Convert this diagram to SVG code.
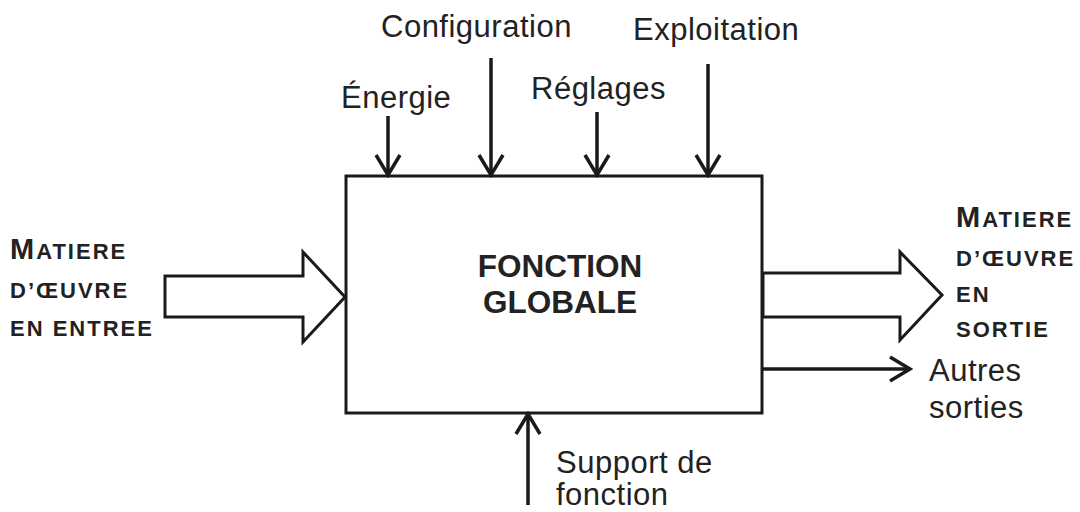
<svg xmlns="http://www.w3.org/2000/svg" width="1080" height="512" viewBox="0 0 1080 512">
  <defs>
    <marker id="chev" markerUnits="userSpaceOnUse" markerWidth="26" markerHeight="28" viewBox="0 0 26 28" refX="23" refY="14" orient="auto">
      <path d="M3,2 L23,14 L3,26" fill="none" stroke="#1a1a1a" stroke-width="3.5" stroke-linejoin="miter"/>
    </marker>
  </defs>
  <style>
    .t { font-family: "Liberation Sans", Arial, sans-serif; font-size: 31px; letter-spacing: 0.5px; fill: #222; }
    .b { font-family: "Liberation Sans", Arial, sans-serif; font-weight: bold; fill: #222; }
    .sc { font-size: 22px; letter-spacing: 2px; }
    .big { font-size: 29px; }
    .ln { stroke: #1a1a1a; stroke-width: 3.5; fill: none; }
    .hol { stroke: #1a1a1a; stroke-width: 3; fill: #fff; stroke-linejoin: miter; }
  </style>
  <rect width="1080" height="512" fill="#fff"/>

  <g id="fonction-globale">
    <rect x="346" y="176" width="416" height="237" fill="#fff" stroke="#1a1a1a" stroke-width="3"/>
    <text class="b" x="560" y="277" font-size="31.5" text-anchor="middle">FONCTION</text>
    <text class="b" x="560" y="313" font-size="31.5" text-anchor="middle">GLOBALE</text>
  </g>

  <g id="connectors">
    <line class="ln" x1="388" y1="116" x2="388" y2="175" marker-end="url(#chev)"/>
    <line class="ln" x1="491" y1="58" x2="491" y2="175" marker-end="url(#chev)"/>
    <line class="ln" x1="597" y1="112" x2="597" y2="175" marker-end="url(#chev)"/>
    <line class="ln" x1="708" y1="64" x2="708" y2="175" marker-end="url(#chev)"/>
    <line class="ln" x1="528" y1="505" x2="528" y2="414" marker-end="url(#chev)"/>
    <line class="ln" x1="763" y1="369" x2="910" y2="369" marker-end="url(#chev)"/>
    <polygon class="hol" points="165,276 303,276 303,252 345,297 303,342 303,317 165,317"/>
    <polygon class="hol" points="763,273 900,273 900,252 942,295 900,340 900,317 763,317"/>
  </g>

  <g id="energie"><text class="t" x="341" y="108">Énergie</text></g>
  <g id="configuration"><text class="t" x="381" y="37">Configuration</text></g>
  <g id="reglages"><text class="t" x="531" y="99">Réglages</text></g>
  <g id="exploitation"><text class="t" x="633" y="40">Exploitation</text></g>
  <g id="support"><text class="t" x="556" y="473">Support de</text><text class="t" x="556" y="505">fonction</text></g>
  <g id="autres"><text class="t" x="929" y="381">Autres</text><text class="t" x="929" y="418">sorties</text></g>

  <g id="matiere-entree">
    <text class="b sc" x="10" y="259"><tspan class="big">M</tspan>ATIERE</text>
    <text class="b sc" x="10" y="298">D’ŒUVRE</text>
    <text class="b sc" x="10" y="336">EN ENTREE</text>
  </g>
  <g id="matiere-sortie">
    <text class="b sc" x="956" y="227"><tspan class="big">M</tspan>ATIERE</text>
    <text class="b sc" x="956" y="266">D’ŒUVRE</text>
    <text class="b sc" x="956" y="302">EN</text>
    <text class="b sc" x="956" y="337">SORTIE</text>
  </g>
</svg>
